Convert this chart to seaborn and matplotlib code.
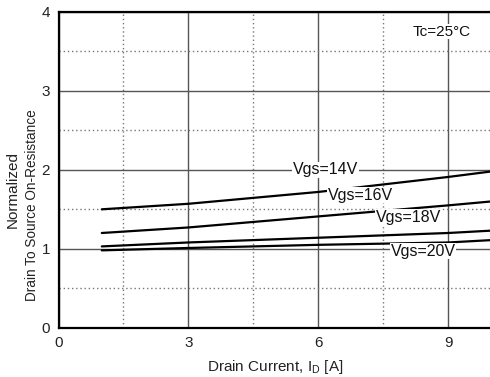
import matplotlib
matplotlib.use("Agg")
import matplotlib.pyplot as plt
import seaborn as sns
import pandas as pd
from matplotlib.ticker import MultipleLocator

sns.set_style("white")
plt.rcParams['font.family'] = ['Liberation Sans', 'DejaVu Sans']

# Data
drain_current = [1, 3, 6, 9, 10]
vgs14 = [1.50, 1.57, 1.72, 1.91, 1.98]
vgs16 = [1.20, 1.27, 1.41, 1.55, 1.60]
vgs18 = [1.03, 1.08, 1.14, 1.20, 1.23]
vgs20 = [0.98, 1.01, 1.05, 1.08, 1.11]
series_names = ["Vgs=14V", "Vgs=16V", "Vgs=18V", "Vgs=20V"]
series_values = [vgs14, vgs16, vgs18, vgs20]
label_pos = [(6.17, 2.00), (6.98, 1.68), (8.09, 1.40), (8.42, 0.97)]
x_ticks = [0, 3, 6, 9]
y_ticks = [0, 1, 2, 3, 4]

rows = []
for name, vals in zip(series_names, series_values):
    for x, y in zip(drain_current, vals):
        rows.append({"Id": x, "R": y, "series": name})
df = pd.DataFrame(rows)

W, H = 490, 377
fig = plt.figure(figsize=(4.9, 3.77), dpi=100)
ax = fig.add_axes([58.5 / W, (H - 327.7) / H, 433 / W, 315.7 / H])

# grid
ax.set_xlim(0, 10)
ax.set_ylim(0, 4)
ax.xaxis.set_major_locator(MultipleLocator(3))
ax.xaxis.set_minor_locator(MultipleLocator(1.5))
ax.yaxis.set_major_locator(MultipleLocator(1))
ax.yaxis.set_minor_locator(MultipleLocator(0.5))
ax.grid(which='major', color='#555555', linestyle='-', linewidth=1.0)
ax.grid(which='minor', color='#777777', linestyle=(0, (1, 2)), linewidth=1.0)
ax.set_axisbelow(True)

sns.lineplot(data=df, x="Id", y="R", hue="series",
             palette=["black"] * 4, legend=False, linewidth=1.6, ax=ax)

for name, (lx, ly) in zip(series_names, label_pos):
    ax.text(lx, ly, name, fontsize=11.5, ha='center', va='center', color='#111111',
            bbox=dict(facecolor='white', edgecolor='none', pad=0.6), zorder=5)

ax.text(8.86, 3.75, "Tc=25°C", fontsize=11, ha='center', va='center', color='#111111',
        bbox=dict(facecolor='white', edgecolor='none', pad=0.3), zorder=5)

ax.set_xticks(x_ticks)
ax.set_yticks(y_ticks)
ax.set_xticklabels([str(t) for t in x_ticks])
ax.set_yticklabels([str(t) for t in y_ticks])
ax.tick_params(which='major', length=0, labelsize=11, pad=6, colors='#222222')
ax.tick_params(which='minor', direction='in', length=3, color='#333333')
ax.tick_params(axis='y', which='major', pad=6)

for s in ax.spines.values():
    s.set_color('black')
    s.set_linewidth(1.6)

ax.set_xlabel("Drain Current, I$_\\mathregular{D}$ [A]", fontsize=11, color='#222222')
ax.xaxis.set_label_coords(0.5, -0.095)
ax.set_ylabel("")

fig.text(12.5 / W, 1 - 189.5 / H, "Normalized", rotation=90, fontsize=11,
         ha='center', va='center', color='#222222')
fig.text(32 / W, 1 - 205 / H, "Drain To Source On-Resistance", rotation=90,
         fontsize=9.8, ha='center', va='center', color='#222222')

fig.savefig("out.png", dpi=100)
